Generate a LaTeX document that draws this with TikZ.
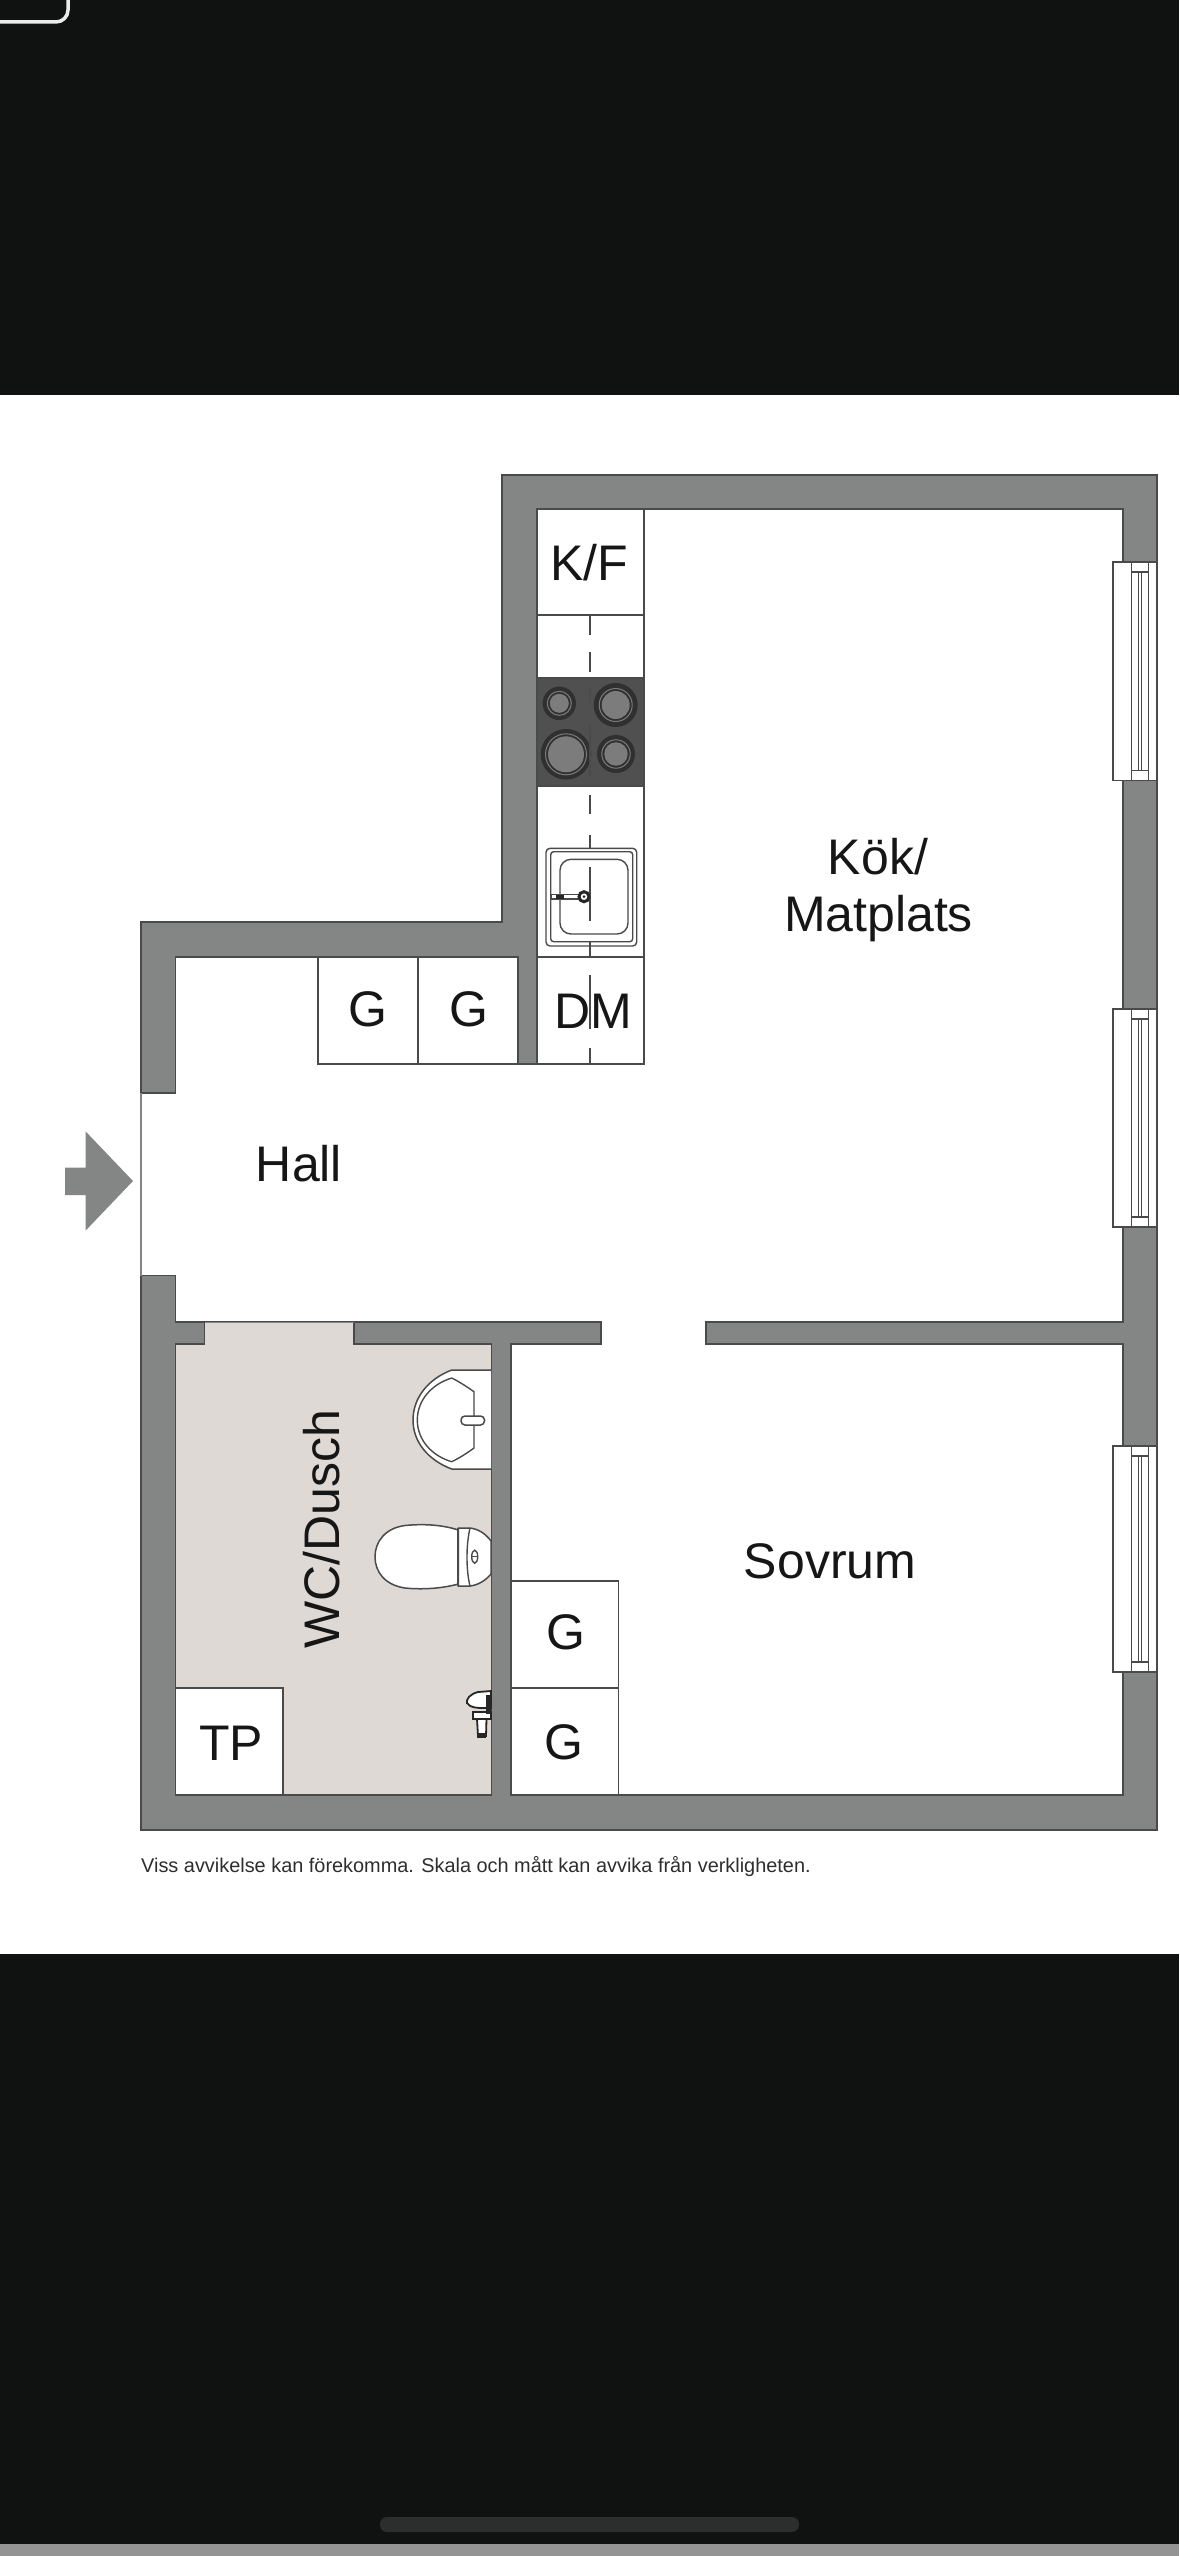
\documentclass[tikz,border=0pt]{standalone}
\usepackage{fontspec}
\setmainfont{Liberation Sans}
\definecolor{bgblack}{HTML}{0F1211}
\definecolor{wallgrey}{HTML}{848686}
\definecolor{edge}{HTML}{4A4A4A}
\definecolor{bathfloor}{HTML}{DED9D5}
\definecolor{hobgrey}{HTML}{505050}
\definecolor{burnerdark}{HTML}{303030}
\definecolor{burnerlight}{HTML}{7C7C7C}
\definecolor{inktext}{HTML}{161616}
\tikzset{
  wall/.style={fill=wallgrey,draw=edge,line width=1.6pt,line join=miter},
  roomfill/.style={fill=white,draw=edge,line width=1.6pt,line join=miter},
  fitting/.style={draw=edge,line width=1.6pt},
  thinline/.style={draw=edge,line width=1.4pt},
  dashseg/.style={draw=edge,line width=1.5pt},
  lbl/.style={anchor=base,inner sep=0pt,text=inktext,font=\fontsize{50}{50}\selectfont},
}
\begin{document}
\begin{tikzpicture}[x=1pt,y=-1pt]
\useasboundingbox (0,0) rectangle (1179,2556);
% screenshot background
\fill[bgblack] (0,0) rectangle (1179,2556);
\draw[color=black!8!white,line width=3.5pt,rounded corners=12pt] (-3,22) -- (68,22) -- (68,-3);
\fill[white] (0,394.5) rectangle (1179,1954);
\fill[white!58!black] (0,2544) rectangle (1179,2556);
\fill[white!12!bgblack,rounded corners=7pt] (380,2517) rectangle (799,2532);
% walls
\path[wall] (502,475) -- (1157,475) -- (1157,1830) -- (141,1830) -- (141,922) -- (502,922) -- cycle;
% rooms
\path[roomfill] (537,509) -- (1123,509) -- (1123,1322) -- (706,1322) -- (706,1344) -- (1123,1344)
  -- (1123,1795) -- (511,1795) -- (511,1344) -- (601,1344) -- (601,1322) -- (175.5,1322)
  -- (175.5,957) -- (518,957) -- (518,1064) -- (537,1064) -- cycle;
\path[fill=bathfloor,draw=edge,line width=1.6pt] (175.5,1344) -- (204.5,1344) -- (204.5,1322) -- (354,1322) -- (354,1344)
  -- (491.5,1344) -- (491.5,1795) -- (175.5,1795) -- cycle;
\draw[line width=1pt,draw=wallgrey] (204.5,1322) -- (354,1322);
% entrance opening
\fill[white] (139,1093) rectangle (177,1275.5);
\draw[fitting] (141,1093) -- (175.5,1093) -- (175.5,1092);
\draw[fitting] (141,1275.5) -- (175.5,1275.5);
\draw[draw=wallgrey,line width=2pt] (141,1093) -- (141,1275.5);
% entrance arrow
\fill[wallgrey] (65,1167.5) -- (85.7,1167.5) -- (85.7,1131.5) -- (133,1181) -- (85.7,1230.5) -- (85.7,1195) -- (65,1195) -- cycle;
% windows
\foreach \wt/\wb in {563/779.5,1010/1226,1447/1671}{
  \path[fill=white,draw=edge,line width=1.5pt] (1113,\wt-1) rectangle (1157,\wb+1);
  \draw[thinline] (1131.7,\wt) -- (1131.7,\wb) (1148.3,\wt) -- (1148.3,\wb);
  \draw[thinline] (1131.7,\wt+9) -- (1148.3,\wt+9) (1131.7,\wb-9) -- (1148.3,\wb-9);
  \draw[thinline,line width=1.2pt] (1138.3,\wt+9) -- (1138.3,\wb-9) (1141.5,\wt+9) -- (1141.5,\wb-9);
}
% kitchen counter
\draw[fitting] (644,509) -- (644,1064) -- (537,1064);
\draw[fitting] (537,615) -- (644,615);
\draw[fitting] (537,957) -- (644,957);
% closets
\draw[fitting] (318,957) -- (318,1064) -- (518,1064) (418,957) -- (418,1064);
\draw[fitting] (511,1581) -- (618.5,1581) -- (618.5,1795) (511,1688) -- (618.5,1688);
\fill[white] (175.5,1688) rectangle (283,1795);
\draw[fitting] (175.5,1688) -- (283,1688) -- (283,1795);
\draw[fitting] (175.5,1795) -- (283,1795);
% hob
\path[fill=hobgrey,draw=edge,line width=1.4pt] (537,678) rectangle (644,786);
\foreach \cx/\cy/\ro/\ri in {559.3/703.3/16.7/9.5, 615.7/705/22/14, 566/754.3/25.3/18, 616/754/19/11.7}{
  \fill[burnerdark] (\cx,\cy) circle[radius=\ro pt];
  \draw[draw=burnerlight,line width=1pt] (\cx,\cy) circle[radius=\ri pt+2.5pt];
  \fill[burnerlight] (\cx,\cy) circle[radius=\ri pt];
}
% dashed centre line of the counter
\draw[dashseg] (590,616)--(590,635) (590,652)--(590,672) (590,688)--(590,703) (590,725)--(590,777)
  (590,795)--(590,814) (590,835)--(590,848) (590,866.5)--(590,921) (590,941.5)--(590,957)
  (590,975)--(590,1029) (590,1048)--(590,1064);
% sink
\draw[thinline,rounded corners=4pt] (546,848.3) rectangle (636.7,946);
\draw[thinline,rounded corners=3pt] (550.7,851.7) rectangle (632.7,941.7);
\draw[thinline,rounded corners=11pt] (560,859.3) rectangle (628,934);
\path[fill=white,draw=edge,line width=1.3pt] (551.5,894.5) rectangle (582,899);
\fill[black!85] (556,894.5) rectangle (564,899);
\path[fill=white,draw=black!85,line width=3pt] (584,896.7) circle[radius=5pt];
\fill[black!85] (584,896.7) circle[radius=1.5pt];
% bathroom washbasin
\path[fill=white,draw=edge,line width=1.5pt] (491,1370) -- (451.7,1370) .. controls (428,1379) and (413,1398) .. (413,1420)
  .. controls (413,1442) and (428,1460) .. (451.7,1469) -- (491,1469);
\draw[thinline] (474,1391.7) .. controls (474,1391.7) and (462,1383) .. (451.7,1378)
  .. controls (432,1384) and (417.3,1400) .. (417.3,1420)
  .. controls (417.3,1440) and (432,1456) .. (451.7,1461.7)
  .. controls (462,1457) and (474,1448) .. (474,1448) -- cycle;
\path[fill=white,draw=edge,line width=1.5pt,rounded corners=4pt] (461,1416) rectangle (484.5,1425);
% toilet
\path[fill=white,draw=edge,line width=1.5pt] (458.3,1530) .. controls (440,1524) and (420,1524) .. (405,1525.5)
  .. controls (385,1528) and (375,1542) .. (375,1556.7)
  .. controls (375,1572) and (385,1585) .. (405,1588)
  .. controls (420,1589.5) and (440,1589) .. (458.3,1584) -- cycle;
\path[fill=white,draw=edge,line width=1.5pt] (458.3,1528) -- (470,1528) .. controls (478,1529) and (485,1533) .. (491,1541)
  -- (491,1574) .. controls (485,1581) and (478,1585) .. (470,1586) -- (458.3,1586) -- cycle;
\draw[thinline] (470,1528) .. controls (466,1545) and (466,1570) .. (470,1586);
\draw[thinline,line width=1.8pt] (458.3,1528) -- (458.3,1586);
\draw[draw=edge,line width=1.4pt] (474.7,1556.7) ellipse[x radius=3pt,y radius=6.5pt];
\draw[draw=edge,line width=1.2pt] (471.7,1556.7) -- (477.7,1556.7);
% shower mixer
\path[fill=white,draw=black!85,line width=1.8pt] (491,1691) -- (478,1692) .. controls (470,1694) and (466,1699) .. (467,1703)
  .. controls (470,1708) and (478,1708) .. (484,1708) -- (491,1708) -- cycle;
\path[fill=white,draw=black!85,line width=1.8pt] (473,1712) rectangle (491,1719);
\path[fill=white,draw=black!85,line width=1.8pt] (477,1719) -- (486.5,1719) -- (486,1736) -- (478,1736) -- cycle;
\fill[black!85] (486,1695) rectangle (491,1714);
\fill[black!85] (477,1733) rectangle (486,1738);
% labels
\node[lbl] (kf) at (589,580) {K/F};
\node[lbl] (kok) at (878,874) {Kök/};
\node[lbl] (matplats) at (878.5,931) {Matplats};
\node[lbl] (dm) at (593,1028) {DM};
\node[lbl] (g1) at (367.5,1026) {G};
\node[lbl] (g2) at (469,1026) {G};
\node[lbl] (hall) at (299,1181) {Hall};
\node[lbl] (sovrum) at (830,1578) {Sovrum};
\node[lbl] (g3) at (566.4,1649) {G};
\node[lbl] (g4) at (564.3,1759) {G};
\node[lbl] (tp) at (231,1760) {TP};
\node[lbl,rotate=90] (wc) at (339,1529) {WC/Dusch};
\node[anchor=base west,inner sep=0pt,text=black!82,font=\fontsize{19.9}{20}\selectfont] (note) at (141,1872) {Viss avvikelse kan förekomma. Skala och mått kan avvika från verkligheten.};
\end{tikzpicture}
\end{document}
